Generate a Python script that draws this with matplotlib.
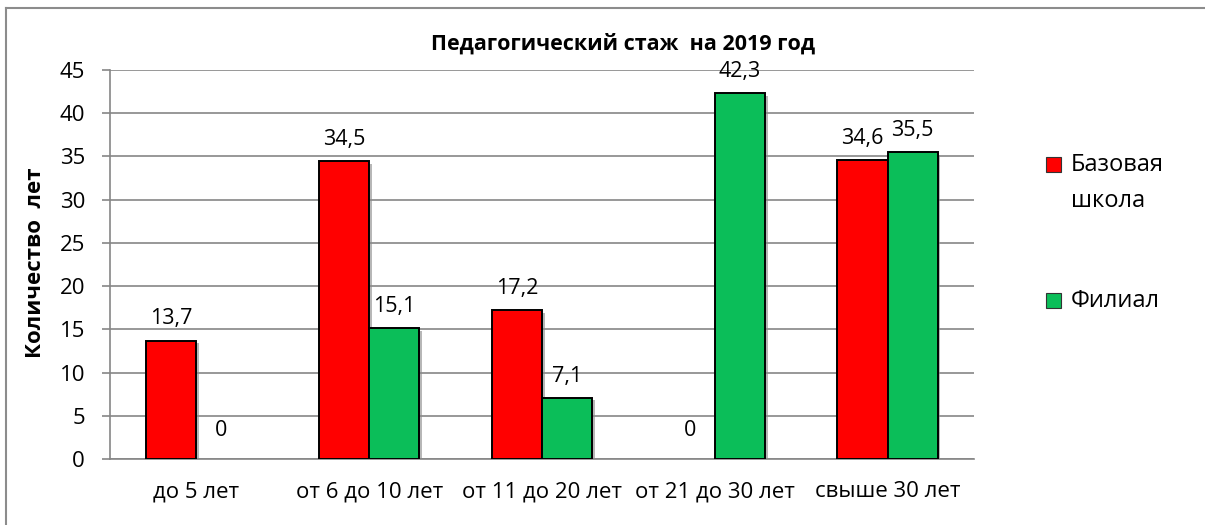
import matplotlib
matplotlib.use("Agg")
import matplotlib.pyplot as plt
import matplotlib.patheffects as pe
from matplotlib.lines import Line2D
import numpy as np

plt.rcParams['font.family'] = ['Open Sans', 'DejaVu Sans']

categories = ["до 5 лет", "от 6 до 10 лет", "от 11 до 20 лет", "от 21 до 30 лет", "свыше 30 лет"]
base_school = [13.7, 34.5, 17.2, 0, 34.6]
branch = [0, 15.1, 7.1, 42.3, 35.5]
series_names = ["Базовая\nшкола", "Филиал"]
title = "Педагогический стаж  на 2019 год"
ylabel = "Количество  лет"

W, H = 1205, 525
fig = plt.figure(figsize=(W / 100, H / 100), dpi=100)
ax = fig.add_axes([110 / W, 1 - 459 / H, (974 - 110) / W, (459 - 70) / H])

x = np.arange(len(categories))
bw = 0.29
red = '#FF0000'
green = '#0BBE59'
shadow = [pe.SimplePatchShadow(offset=(2, -2), shadow_rgbFace='#888888', alpha=0.6), pe.Normal()]

b1 = ax.bar(x - bw / 2, base_school, bw, color=red, edgecolor='black', linewidth=1.4, zorder=3)
b2 = ax.bar(x + bw / 2, branch, bw, color=green, edgecolor='black', linewidth=1.4, zorder=3)
for bars in (b1, b2):
    for r in bars:
        if r.get_height() > 0:
            r.set_path_effects(shadow)
        else:
            r.set_visible(False)

def fmt(v):
    return ("%g" % v).replace('.', ',')

for bars, vals in ((b1, base_school), (b2, branch)):
    for r, v in zip(bars, vals):
        ax.annotate(fmt(v), (r.get_x() + r.get_width() / 2, v), xytext=(0, 8 if v > 0 else 13),
                    textcoords='offset points', ha='center', va='bottom', fontsize=15.5, color='black')

ax.set_xlim(-0.5, len(categories) - 0.5)
ax.set_ylim(0, 45)
ax.set_yticks(np.arange(0, 46, 5))
ax.set_xticks(x)
ax.set_xticklabels(categories, fontsize=16)
ax.tick_params(axis='y', labelsize=16, length=6, color='#868686', width=1.2, pad=12)
ax.tick_params(axis='x', length=0, pad=16)
ax.yaxis.grid(True, color='#868686', linewidth=1.2, zorder=0)
ax.set_axisbelow(True)
for s in ['top', 'right']:
    ax.spines[s].set_visible(False)
for s in ['left', 'bottom']:
    ax.spines[s].set_color('#868686')
    ax.spines[s].set_linewidth(1.2)

fig.text(623 / W, 1 - 44 / H, title, ha='center', va='center', fontsize=15.5, fontweight='bold')
fig.text(36 / W, 1 - 263 / H, ylabel, ha='center', va='center', rotation=90, fontsize=16, fontweight='bold')

# legend
def legend_marker(xp, yp, col):
    fig.patches.append(matplotlib.patches.Rectangle((xp / W, 1 - (yp + 7) / H), 15 / W, 15 / H,
                       transform=fig.transFigure, facecolor=col, edgecolor='#333333', linewidth=0.8))
legend_marker(1046, 165, red)
fig.text(1071 / W, 1 - 165 / H, "Базовая", ha='left', va='center', fontsize=17)
fig.text(1071 / W, 1 - 201 / H, "школа", ha='left', va='center', fontsize=17)
legend_marker(1046, 301, green)
fig.text(1071 / W, 1 - 301 / H, "Филиал", ha='left', va='center', fontsize=17)

# outer border
fig.add_artist(Line2D([6 / W, 1.0], [1 - 8 / H, 1 - 8 / H], transform=fig.transFigure, color='#8c8c8c', linewidth=1.5))
fig.add_artist(Line2D([6 / W, 6 / W], [1 - 8 / H, 0], transform=fig.transFigure, color='#8c8c8c', linewidth=1.5))

fig.savefig("out.png", dpi=100)
